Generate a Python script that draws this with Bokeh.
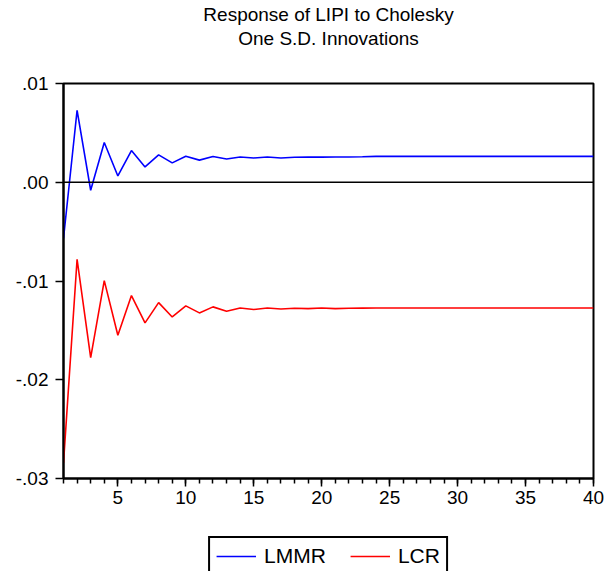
from bokeh.plotting import figure
from bokeh.layouts import column
from bokeh.models import (ColumnDataSource, Span, Label, Legend, LegendItem,
                          SingleIntervalTicker, FixedTicker, Range1d)
from bokeh.embed import file_html
from bokeh.resources import INLINE

# Impulse responses of LIPI, periods 1..40
periods = list(range(1, 41))
lmmr = [-0.0057, 0.00729, -0.00081, 0.00402, 0.00064, 0.00321, 0.00155, 0.00277,
        0.00196, 0.00263, 0.00224, 0.0026, 0.00236, 0.00256, 0.00246, 0.00256,
        0.00246, 0.00253, 0.00254, 0.00254, 0.00255, 0.00256, 0.00258, 0.00262,
        0.00262, 0.00262, 0.00262, 0.00262, 0.00262, 0.00262, 0.00262, 0.00262,
        0.00262, 0.00262, 0.00262, 0.00262, 0.00262, 0.00262, 0.00262, 0.00262]
lcr = [-0.02843, -0.0078, -0.01776, -0.00996, -0.01549, -0.01148, -0.01424, -0.01219,
       -0.01364, -0.01252, -0.01323, -0.01262, -0.01306, -0.01273, -0.01289, -0.01273,
       -0.01283, -0.01276, -0.0128, -0.01273, -0.0128, -0.01276, -0.01275, -0.01274,
       -0.01274, -0.01274, -0.01274, -0.01274, -0.01274, -0.01274, -0.01274, -0.01274,
       -0.01274, -0.01274, -0.01274, -0.01274, -0.01274, -0.01274, -0.01274, -0.01274]

ytick_values = [-0.03, -0.02, -0.01, 0.0, 0.01]
ytick_labels = ["-.03", "-.02", "-.01", ".00", ".01"]
series_names = ["LMMR", "LCR"]
series_colors = ["#0000FF", "#FF0000"]
title_lines = ["Response of LIPI to Cholesky", "One S.D. Innovations"]

FONT = "Liberation Sans"
W = 605


def bare(fig):
    fig.axis.visible = False
    fig.grid.visible = False
    fig.outline_line_color = None
    fig.background_fill_color = "white"
    fig.border_fill_color = "white"
    return fig


# ---- heading strip (y measured downward in pixels) ----
head = bare(figure(width=W, height=60, x_range=Range1d(0, 1), y_range=Range1d(60, 0),
                   output_backend="svg", toolbar_location=None,
                   min_border_left=57, min_border_right=12,
                   min_border_top=0, min_border_bottom=0))
for line, base in zip(title_lines, [14, 38]):
    head.add_layout(Label(x=0.5, y=base, text=line, text_align="center",
                          text_baseline="alphabetic", text_font=FONT,
                          text_font_size="19px", text_color="black"))

# ---- main impulse-response panel ----
src = ColumnDataSource(dict(t=periods, lmmr=lmmr, lcr=lcr))

p = figure(width=W, height=453, x_range=(1, 40), y_range=(-0.03, 0.01),
           output_backend="svg", toolbar_location=None,
           min_border_left=63, min_border_right=12,
           min_border_top=23, min_border_bottom=35)
p.background_fill_color = "white"
p.border_fill_color = "white"
p.outline_line_color = "black"
p.outline_line_width = 2
p.xgrid.visible = False
p.ygrid.visible = False

# x axis: labels every 5, minor ticks every period
xa = p.xaxis[0]
xa.ticker = SingleIntervalTicker(interval=5, num_minor_ticks=5)
xa.major_tick_out = 8
xa.major_tick_in = 0
xa.minor_tick_out = 5
xa.minor_tick_in = 0
xa.axis_line_width = 2
xa.major_tick_line_width = 1.5
xa.minor_tick_line_width = 1.5
xa.major_label_text_font = FONT
xa.major_label_text_font_size = "19px"
xa.major_label_text_color = "black"
xa.major_label_standoff = 4

ya = p.yaxis[0]
ya.ticker = FixedTicker(ticks=ytick_values)
ya.major_label_overrides = dict(zip(ytick_values, ytick_labels))
ya.major_tick_out = 8
ya.major_tick_in = 0
ya.minor_tick_out = 0
ya.minor_tick_in = 0
ya.axis_line_width = 2
ya.major_tick_line_width = 1.5
ya.major_label_text_font = FONT
ya.major_label_text_font_size = "19px"
ya.major_label_text_color = "black"
ya.major_label_standoff = 7

# zero reference line
p.add_layout(Span(location=0, dimension="width", line_color="black", line_width=1.5))

p.line("t", "lmmr", source=src, line_color=series_colors[0], line_width=1.6)
p.line("t", "lcr", source=src, line_color=series_colors[1], line_width=1.6)

# ---- legend strip: key lines use the same series, kept out of view ----
leg = bare(figure(width=W, height=58, x_range=Range1d(0, 1), y_range=Range1d(1, 2),
                  output_backend="svg", toolbar_location=None,
                  min_border_left=63, min_border_right=12,
                  min_border_top=0, min_border_bottom=0))
keys = [leg.line("t", col, source=src, line_color=c, line_width=1.6)
        for col, c in zip(["lmmr", "lcr"], series_colors)]
legend = Legend(items=[LegendItem(label=n, renderers=[r])
                       for n, r in zip(series_names, keys)],
                orientation="horizontal", location="top_center",
                label_text_font=FONT, label_text_font_size="21px",
                label_text_color="black", glyph_width=40, glyph_height=20,
                label_height=22, label_standoff=8, spacing=24, padding=6,
                margin=23, border_line_color="black", border_line_width=2,
                border_line_alpha=1.0,
                background_fill_color="white", background_fill_alpha=1.0)
leg.add_layout(legend, "center")

page = column(head, p, leg, spacing=0)
open("out.html", "w").write(file_html(page, INLINE))
